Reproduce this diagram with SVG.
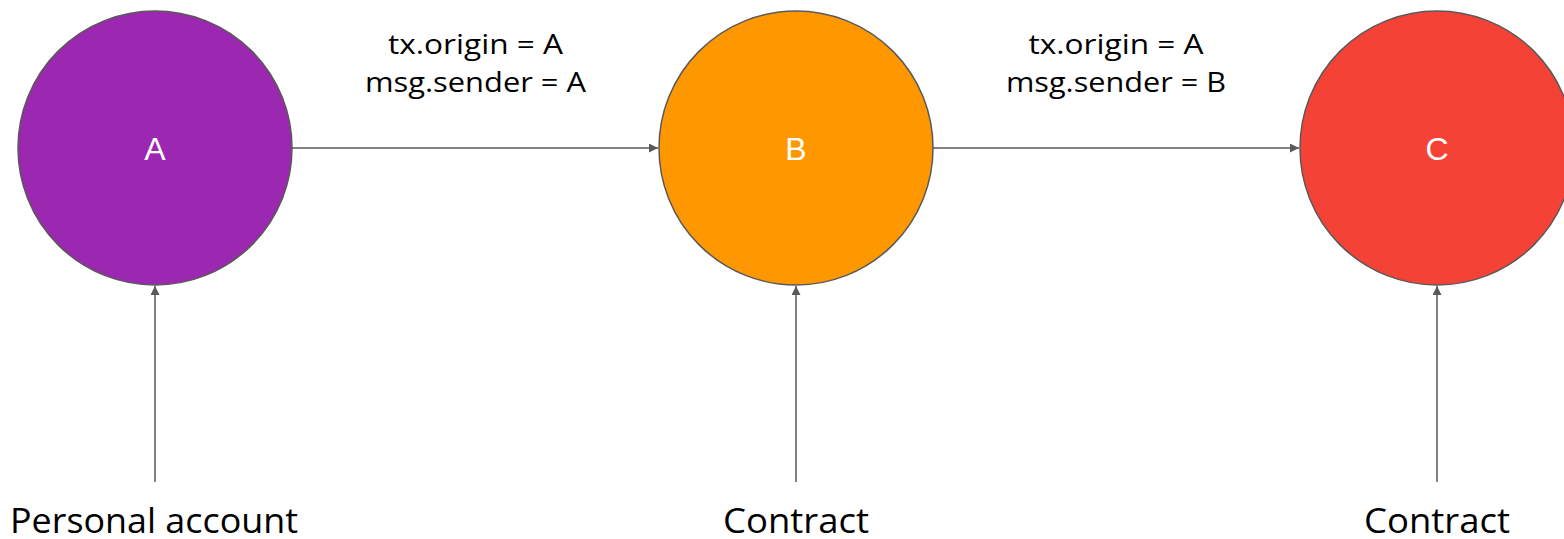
<svg xmlns="http://www.w3.org/2000/svg" width="1564" height="539" viewBox="0 0 1564 539">
<style>
.node{stroke:#595959;stroke-width:1.5}
.nl{font-family:"Liberation Sans",Arial,sans-serif;font-size:32px;fill:#ffffff;text-anchor:middle}
.lbl{font-family:"Open Sans","Noto Sans",sans-serif;font-size:27px;fill:#000000;text-anchor:middle}
.cap{font-family:"Open Sans","Noto Sans",sans-serif;font-size:35px;fill:#000000;text-anchor:middle}
.edge{stroke:#595959;stroke-width:1.5;fill:none}
</style>
<defs>
<marker id="ah" viewBox="0 0 10 10" refX="10" refY="5" markerWidth="9" markerHeight="9" markerUnits="userSpaceOnUse" orient="auto">
<path d="M0,0 L10,5 L0,10 z" fill="#595959"/>
</marker>
</defs>
<rect width="1564" height="539" fill="#ffffff"/>
<g id="connectors">
<line class="edge" x1="292" y1="148" x2="658" y2="148" marker-end="url(#ah)"/>
<line class="edge" x1="933" y1="148" x2="1299" y2="148" marker-end="url(#ah)"/>
<line class="edge" x1="155" y1="482" x2="155" y2="286" marker-end="url(#ah)"/>
<line class="edge" x1="796" y1="482" x2="796" y2="286" marker-end="url(#ah)"/>
<line class="edge" x1="1437" y1="482" x2="1437" y2="286" marker-end="url(#ah)"/>
<text class="lbl" x="475.5" y="54" textLength="175" lengthAdjust="spacingAndGlyphs">tx.origin = A</text>
<text class="lbl" x="475.5" y="92" textLength="221" lengthAdjust="spacingAndGlyphs">msg.sender = A</text>
<text class="lbl" x="1116" y="54" textLength="175" lengthAdjust="spacingAndGlyphs">tx.origin = A</text>
<text class="lbl" x="1116" y="92" textLength="220" lengthAdjust="spacingAndGlyphs">msg.sender = B</text>
</g>
<g id="nodeA">
<circle class="node" cx="155" cy="148" r="137" fill="#9c27b0"/>
<text class="nl" x="155" y="160">A</text>
<text class="cap" x="154" y="533" textLength="288" lengthAdjust="spacingAndGlyphs">Personal account</text>
</g>
<g id="nodeB">
<circle class="node" cx="796" cy="148" r="137" fill="#ff9800"/>
<text class="nl" x="796" y="160">B</text>
<text class="cap" x="796" y="533" textLength="146" lengthAdjust="spacingAndGlyphs">Contract</text>
</g>
<g id="nodeC">
<circle class="node" cx="1437" cy="148" r="137" fill="#f44336"/>
<text class="nl" x="1437" y="160">C</text>
<text class="cap" x="1437" y="533" textLength="146" lengthAdjust="spacingAndGlyphs">Contract</text>
</g>
</svg>
